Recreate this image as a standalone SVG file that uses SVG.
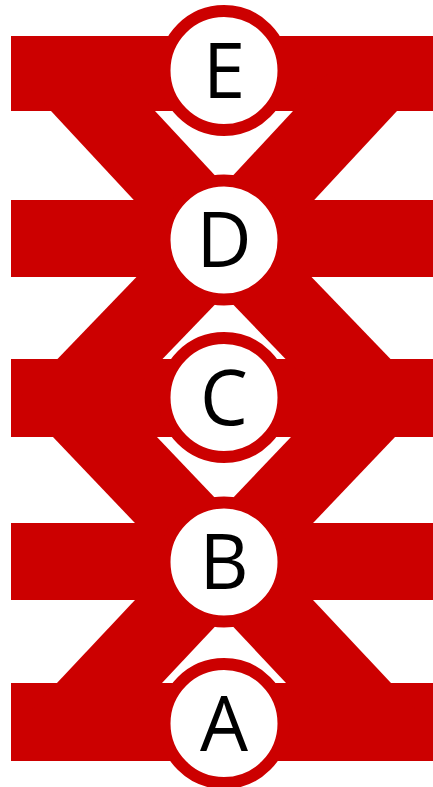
<svg xmlns="http://www.w3.org/2000/svg" width="433" height="787" viewBox="0 0 433 787">
  <style>
    .bar { fill: #cc0000; }
    .band { fill: #cc0000; }
    .ring { fill: #ffffff; stroke: #cc0000; stroke-width: 12; }
    .label { font-family: "Open Sans", "Noto Sans", "Liberation Sans", sans-serif; font-size: 76px; fill: #000000; text-anchor: middle; }
  </style>
  <rect width="433" height="787" fill="#ffffff"/>
  <g id="bars">
    <rect id="bar-E" class="bar" x="11" y="36" width="426" height="75"/>
    <rect id="bar-D" class="bar" x="11" y="200" width="426" height="77"/>
    <rect id="bar-C" class="bar" x="11" y="359" width="426" height="78"/>
    <rect id="bar-B" class="bar" x="11" y="523" width="426" height="77"/>
    <rect id="bar-A" class="bar" x="11" y="683" width="426" height="78"/>
  </g>
  <g id="connectors">
    <!-- E - D -->
    <polygon class="band" points="16.6,74 120.6,74 273.1,238 169.1,238"/>
    <polygon class="band" points="431.4,74 327.4,74 174.9,238 278.9,238"/>
    <!-- D - C -->
    <polygon class="band" points="172.1,240 277.1,240 124.9,398 19.9,398"/>
    <polygon class="band" points="275.9,240 170.9,240 323.1,398 428.1,398"/>
    <!-- C - B -->
    <polygon class="band" points="15.8,398 119.8,398 276.1,562 172.1,562"/>
    <polygon class="band" points="432.2,398 328.2,398 171.9,562 275.9,562"/>
    <!-- B - A -->
    <polygon class="band" points="170.7,562 275.7,562 125.3,722 20.3,722"/>
    <polygon class="band" points="277.3,562 172.3,562 322.7,722 427.7,722"/>
  </g>
  <g id="node-E">
    <circle class="ring" cx="224" cy="70.5" r="59.5"/>
    <text class="label" x="224" y="97.5">E</text>
  </g>
  <g id="node-D">
    <circle class="ring" cx="224" cy="240" r="59.5"/>
    <text class="label" x="224" y="267">D</text>
  </g>
  <g id="node-C">
    <circle class="ring" cx="224" cy="397.5" r="59.5"/>
    <text class="label" x="224" y="424.5">C</text>
  </g>
  <g id="node-B">
    <circle class="ring" cx="224" cy="562" r="59.5"/>
    <text class="label" x="224" y="589">B</text>
  </g>
  <g id="node-A">
    <circle class="ring" cx="224" cy="723.5" r="59.5"/>
    <text class="label" x="224" y="750.5">A</text>
  </g>
</svg>
